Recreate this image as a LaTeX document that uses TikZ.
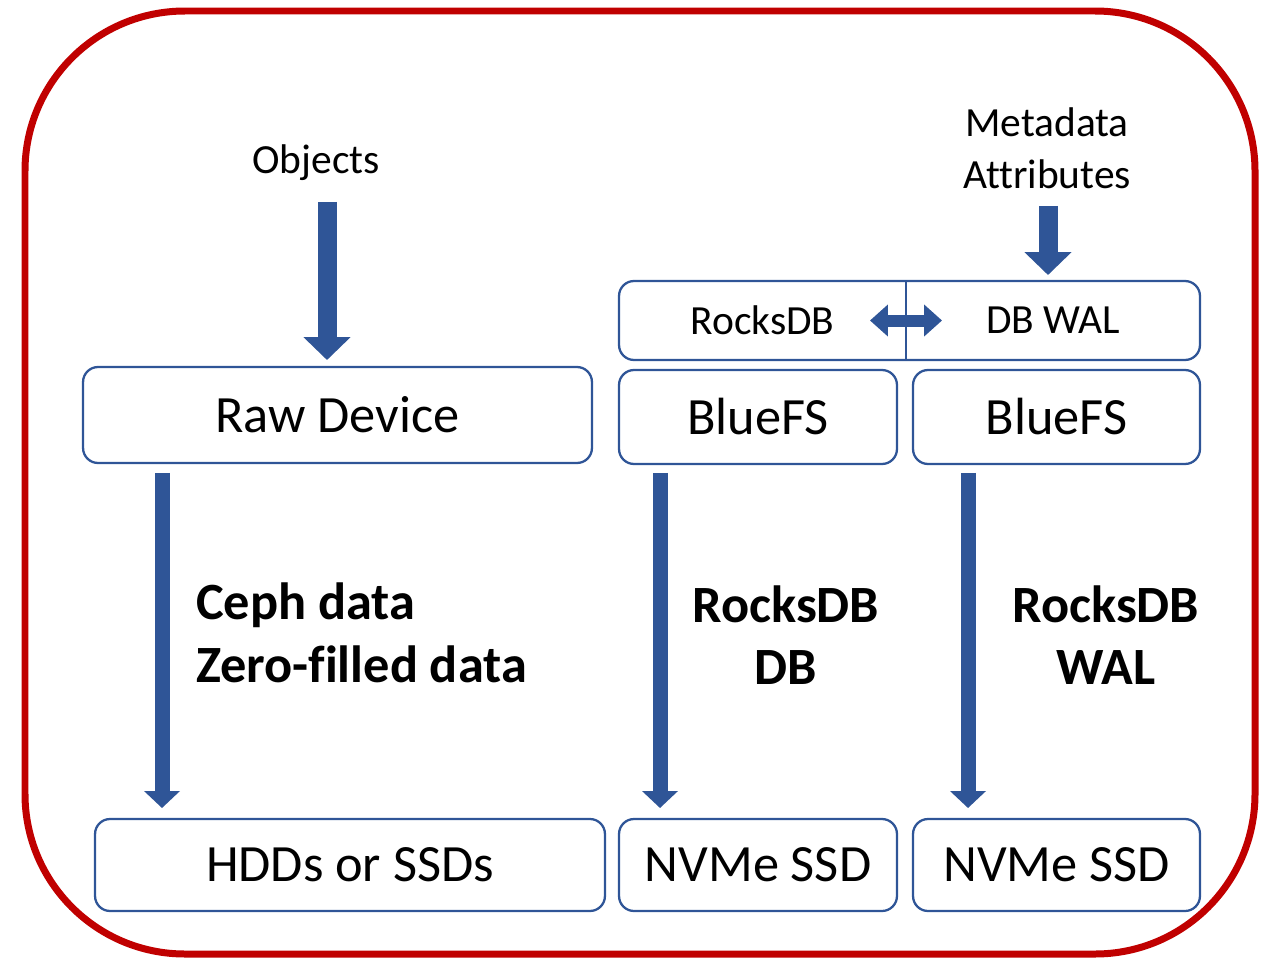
\documentclass[tikz,border=0pt]{standalone}
\usepackage{fontspec}
\setmainfont{Carlito}[Ligatures=NoCommon]
\usetikzlibrary{arrows.meta,positioning,fit}

\definecolor{cephblue}{RGB}{47,85,151}
\definecolor{framered}{RGB}{192,0,0}
\newcommand{\bigtxt}{\fontsize{29.8}{35.7}\selectfont}
\newcommand{\smalltxt}{\fontsize{23.6}{29.5}\selectfont}

\begin{document}
\begin{tikzpicture}[x=0.02cm,y=-0.02cm,
    devbox/.style={draw=cephblue,line width=1.3pt,rounded corners=0.3cm,inner sep=0pt,outer sep=0pt,font=\bigtxt},
    halfbox/.style={inner sep=0pt,outer sep=0pt,minimum height=1.58cm,font=\smalltxt},
    fatarrow/.style={cephblue,line width=0.38cm,-{Triangle[width=0.92cm,length=0.46cm]}},
    longarrow/.style={cephblue,line width=0.3cm,-{Triangle[width=0.7cm,length=0.34cm]}},
    swaparrow/.style={cephblue,line width=0.24cm,{Triangle[width=0.62cm,length=0.36cm]}-{Triangle[width=0.62cm,length=0.36cm]}}]

      \useasboundingbox (0,0) rectangle (1271,960);

      % red frame round everything
      \draw[framered,line width=0.14cm,rounded corners=3.2cm] (25,11) rectangle (1255,954);

      % inputs on top
      \node[font=\smalltxt] (objects) at (316,163) {Objects};
      \node[font=\smalltxt,align=center,text depth=0pt] (meta) at (1047,148) {Metadata\\Attributes};

      % rocksdb and wal share one box, split in two
      \node[halfbox,minimum width=5.74cm] (rocks) at (762.5,320.5) {RocksDB};
      \node[halfbox,minimum width=5.88cm] (wal) at (1053,320.5) {DB WAL};
      \node[devbox,fit=(rocks)(wal)] (dbframe) {};
      \draw[cephblue,line width=1.3pt] (rocks.north east) -- (rocks.south east);

      % middle row
      \node[devbox,minimum width=10.18cm,minimum height=1.92cm] (raw) at (337.5,415) {Raw Device};
      \node[devbox,minimum width=5.56cm,minimum height=1.88cm] (bfsdb) at (758,417) {BlueFS};
      \node[devbox,minimum width=5.74cm,minimum height=1.88cm] (bfswal) at (1056.5,417) {BlueFS};

      % devices at the bottom
      \node[devbox,minimum width=10.2cm,minimum height=1.84cm] (hdd) at (350,865) {HDDs or SSDs};
      \node[devbox,minimum width=5.56cm,minimum height=1.84cm] (nvmedb) at (758,865) {NVMe SSD};
      \node[devbox,minimum width=5.74cm,minimum height=1.84cm] (nvmewal) at (1056.5,865) {NVMe SSD};

      % what goes down each path
      \node[font=\bigtxt\bfseries,align=left,anchor=west] (cephdata) at (190,633) {Ceph data\\Zero-filled data};
      \node[font=\bigtxt\bfseries,align=center] (dblabel) at (786,635) {RocksDB\\DB};
      \node[font=\bigtxt\bfseries,align=center] (wallabel) at (1106,635) {RocksDB\\WAL};

      % arrows
      \draw[fatarrow,shorten <=0.78cm,shorten >=0.14cm] (327,0 |- objects) -- (327,0 |- raw.north);
      \draw[fatarrow,shorten <=1.16cm,shorten >=0.12cm] (1048,0 |- meta) -- (1048,0 |- dbframe.north);
      \draw[swaparrow] ([xshift=-0.72cm]rocks.east) -- ([xshift=0.72cm]wal.west);
      \draw[longarrow,shorten <=0.2cm,shorten >=0.22cm] (162,0 |- raw.south) -- (162,0 |- hdd.north);
      \draw[longarrow,shorten <=0.18cm,shorten >=0.22cm] (660,0 |- bfsdb.south) -- (660,0 |- nvmedb.north);
      \draw[longarrow,shorten <=0.18cm,shorten >=0.22cm] (968,0 |- bfswal.south) -- (968,0 |- nvmewal.north);

\end{tikzpicture}
\end{document}
